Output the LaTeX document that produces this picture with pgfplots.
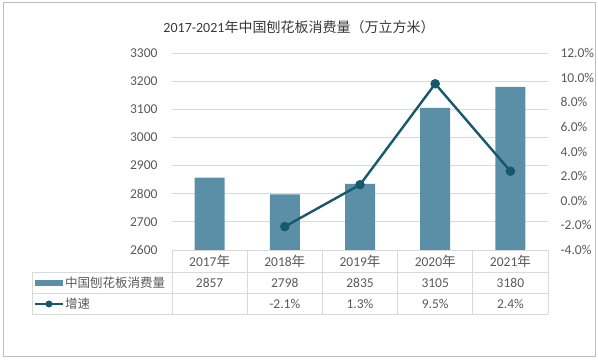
\documentclass[border=0pt]{standalone}
\usepackage{pgfplots}
\pgfplotsset{compat=1.18}
\usepackage{fontspec}
\setmainfont{Carlito}
\newfontfamily\cjk{Noto Sans CJK SC}
\definecolor{barc}{RGB}{91,143,168}
\definecolor{linec}{RGB}{22,88,110}
\definecolor{txt}{RGB}{89,89,89}
\definecolor{gridc}{RGB}{217,217,217}
\definecolor{frame}{RGB}{190,190,190}
\newcommand{\fs}{\fontsize{12.5}{14}\selectfont}
\newcommand{\ft}{\fontsize{13.5}{15}\selectfont}
\begin{document}
\begin{tikzpicture}[x=1pt,y=1pt]
\useasboundingbox (0,0) rectangle (598,361);
\draw[frame, line width=1pt] (3,4) rectangle (595,358);
\node[font=\fontsize{14}{16}\selectfont, text=black!78] at (299,334) {2017-2021{\cjk 年中国刨花板消费量（万立方米）}};
\begin{axis}[at={(172pt,111pt)}, anchor=south west, scale only axis,
  width=376pt, height=197pt,
  xmin=-0.5, xmax=4.5, ymin=2600, ymax=3300,
  ytick={2600,2700,...,3300}, xtick=\empty,
  axis y line*=left, axis x line*=bottom,
  axis line style={draw=none},
  ymajorgrids, grid style={gridc, line width=0.8pt},
  major tick length=0pt,
  /pgf/number format/assume math mode=true,
  /pgf/number format/1000 sep={},
  yticklabel style={font=\ft, text=txt, xshift=-11pt},
  clip=false]
\addplot[ybar, bar width=30pt, fill=barc, draw=none] coordinates {(0,2857) (1,2798) (2,2835) (3,3105) (4,3180)};
\end{axis}
\begin{axis}[at={(172pt,111pt)}, anchor=south west, scale only axis,
  width=376pt, height=197pt,
  xmin=-0.5, xmax=4.5, ymin=-4, ymax=12,
  ytick={-4,-2,...,12}, xtick=\empty,
  axis y line*=right, axis x line=none,
  axis line style={draw=none},
  major tick length=0pt,
  /pgf/number format/assume math mode=true,
  yticklabel={\pgfmathprintnumber[fixed,fixed zerofill,precision=1]{\tick}\%},
  yticklabel style={font=\ft, text=txt, xshift=9pt},
  clip=false]
\addplot[linec, line width=2.4pt, mark=*, mark size=3.5pt] coordinates {(1,-2.1) (2,1.3) (3,9.5) (4,2.4)};
\end{axis}
% data table
\draw[gridc, line width=0.8pt] (32,89) -- (548,89) (32,68) -- (548,68) (32,47) -- (548,47) (32,89) -- (32,47);
\foreach \k in {0,...,5} {\draw[gridc, line width=0.8pt] ({172+75.2*\k},111) -- ({172+75.2*\k},47);}
\draw[gridc, line width=0.8pt] (172,111) -- (548,111);
\foreach \y [count=\i from 0] in {2017,2018,2019,2020,2021} {
  \node[font=\ft, text=txt] at ({172+75.2*(\i+0.5)},100) {\y{\cjk 年}};}
\foreach \v [count=\i from 0] in {2857,2798,2835,3105,3180} {
  \node[font=\ft, text=txt] at ({172+75.2*(\i+0.5)},78) {\v};}
\foreach \v [count=\i from 1] in {-2.1\%,1.3\%,9.5\%,2.4\%} {
  \node[font=\ft, text=txt] at ({172+75.2*(\i+0.5)},57) {\v};}
\fill[barc] (35,75) rectangle (63,81);
\draw[linec, line width=2.4pt] (35,57) -- (63,57);
\fill[linec] (49,57) circle (3.5);
\node[font=\fs, text=txt, anchor=west, inner sep=1pt] at (64,78) {\cjk 中国刨花板消费量};
\node[font=\fs, text=txt, anchor=west, inner sep=1pt] at (64,57) {\cjk 增速};
\end{tikzpicture}
\end{document}
